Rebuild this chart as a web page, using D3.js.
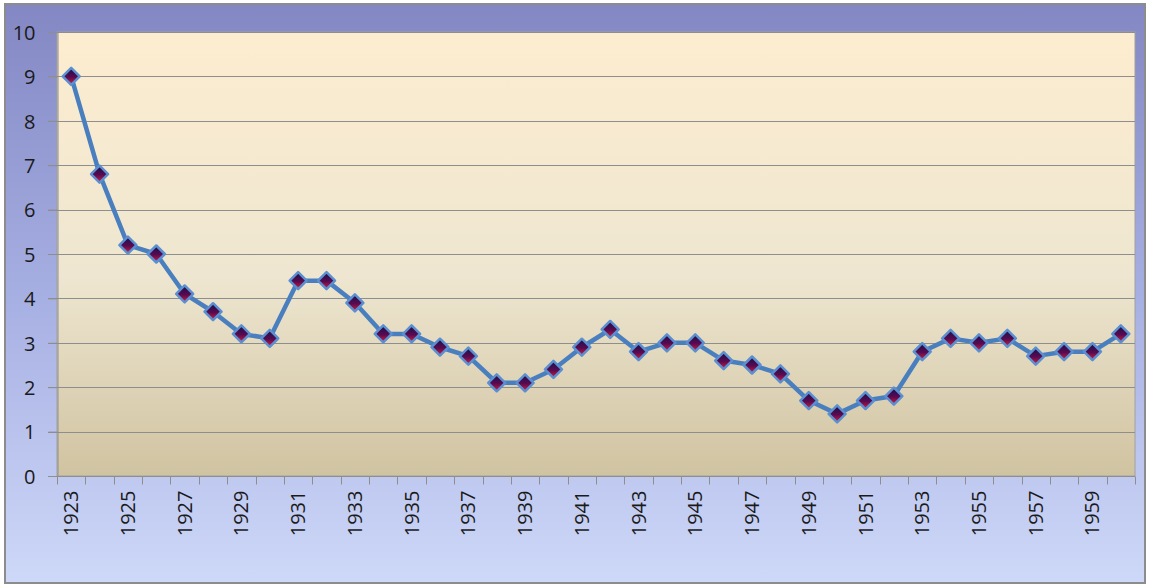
<!DOCTYPE html>
<html>
<head>
<meta charset="utf-8">
<script src="https://d3js.org/d3.v7.min.js"></script>
<style>
  html, body { margin: 0; padding: 0; background: #ffffff; }
  svg { display: block; }
  .axis text { font-family: "Open Sans", sans-serif; font-size: 20px; fill: #1a1a1a; }
</style>
</head>
<body>
<script>
(function(){

//chart data
var years = [1923, 1924, 1925, 1926, 1927, 1928, 1929, 1930, 1931, 1932,
             1933, 1934, 1935, 1936, 1937, 1938, 1939, 1940, 1941, 1942,
             1943, 1944, 1945, 1946, 1947, 1948, 1949, 1950, 1951, 1952,
             1953, 1954, 1955, 1956, 1957, 1958, 1959, 1960];
var values = [9.0, 6.8, 5.2, 5.0, 4.1, 3.7, 3.2, 3.1, 4.4, 4.4,
              3.9, 3.2, 3.2, 2.9, 2.7, 2.1, 2.1, 2.4, 2.9, 3.3,
              2.8, 3.0, 3.0, 2.6, 2.5, 2.3, 1.7, 1.4, 1.7, 1.8,
              2.8, 3.1, 3.0, 3.1, 2.7, 2.8, 2.8, 3.2];
var yTicks = [0, 1, 2, 3, 4, 5, 6, 7, 8, 9, 10];

//frame dimensions
var width = 1150,
    height = 586;
var plot = {left: 57, top: 32, right: 1135, bottom: 476};

var svg = d3.select("body")
    .append("svg")
    .attr("width", width)
    .attr("height", height);

var defs = svg.append("defs");

//outer background gradient
var bg = defs.append("linearGradient")
    .attr("id", "bgGrad")
    .attr("x1", 0).attr("y1", 0).attr("x2", 0).attr("y2", 1);
bg.append("stop").attr("offset", "0%").attr("stop-color", "#8387c3");
bg.append("stop").attr("offset", "50%").attr("stop-color", "#a6afe2");
bg.append("stop").attr("offset", "100%").attr("stop-color", "#ced8f8");

//plot area gradient
var pg = defs.append("linearGradient")
    .attr("id", "plotGrad")
    .attr("x1", 0).attr("y1", 0).attr("x2", 0).attr("y2", 1);
pg.append("stop").attr("offset", "0%").attr("stop-color", "#fdedd0");
pg.append("stop").attr("offset", "55%").attr("stop-color", "#eee6d0");
pg.append("stop").attr("offset", "100%").attr("stop-color", "#d0c3a1");

//marker fill gradient
var mg = defs.append("linearGradient")
    .attr("id", "markGrad")
    .attr("x1", 0).attr("y1", 0).attr("x2", 0).attr("y2", 1);
mg.append("stop").attr("offset", "0%").attr("stop-color", "#14124a");
mg.append("stop").attr("offset", "55%").attr("stop-color", "#5a0a50");
mg.append("stop").attr("offset", "100%").attr("stop-color", "#d8203a");

//background and border
svg.append("rect")
    .attr("x", 5).attr("y", 4)
    .attr("width", 1140).attr("height", 579)
    .attr("fill", "url(#bgGrad)")
    .attr("stroke", "#8c8c8c")
    .attr("stroke-width", 2);

svg.append("rect")
    .attr("x", plot.left).attr("y", plot.top)
    .attr("width", plot.right - plot.left)
    .attr("height", plot.bottom - plot.top)
    .attr("fill", "url(#plotGrad)")
    .attr("stroke", "#a0a0a0")
    .attr("stroke-width", 1);

//scales
var x = d3.scaleBand()
    .domain(years)
    .range([plot.left, plot.right]);

var y = d3.scaleLinear()
    .domain([0, 10])
    .range([plot.bottom, plot.top]);

//gridlines
svg.append("g")
    .selectAll("line")
    .data(yTicks)
    .enter()
    .append("line")
    .attr("x1", plot.left - 9)
    .attr("x2", plot.right)
    .attr("y1", function(d){ return Math.round(y(d)) + 0.5; })
    .attr("y2", function(d){ return Math.round(y(d)) + 0.5; })
    .attr("stroke", "#8e8e8e")
    .attr("stroke-width", 1);

//y axis
var yAxis = svg.append("g")
    .attr("class", "axis")
    .attr("transform", "translate(" + (plot.left + 0.5) + ",0)")
    .call(d3.axisLeft(y).tickValues(yTicks).tickSize(9).tickPadding(13).tickFormat(d3.format("d")));
yAxis.select(".domain").attr("stroke", "#8e8e8e");
yAxis.selectAll(".tick line").attr("stroke", "#8e8e8e");
yAxis.selectAll("text").attr("dy", "0.36em");

//x axis with ticks between categories
var xg = svg.append("g")
    .attr("class", "axis")
    .attr("transform", "translate(0," + (plot.bottom + 0.5) + ")");
xg.append("line")
    .attr("x1", plot.left).attr("x2", plot.right)
    .attr("stroke", "#8e8e8e");
var bounds = years.map(function(d){ return x(d); }).concat([plot.right]);
xg.selectAll(".sep")
    .data(bounds)
    .enter()
    .append("line")
    .attr("class", "sep")
    .attr("x1", function(d){ return Math.round(d) + 0.5; })
    .attr("x2", function(d){ return Math.round(d) + 0.5; })
    .attr("y1", 0).attr("y2", 8)
    .attr("stroke", "#8e8e8e");

xg.selectAll(".lbl")
    .data(years.filter(function(d, i){ return i % 2 === 0; }))
    .enter()
    .append("text")
    .attr("class", "lbl")
    .attr("transform", function(d){
        return "translate(" + (x(d) + x.bandwidth() / 2 + 7) + ",14) rotate(-90)";
    })
    .attr("text-anchor", "end")
    .text(function(d){ return d; });

//line
var line = d3.line()
    .x(function(d, i){ return x(years[i]) + x.bandwidth() / 2; })
    .y(function(d){ return y(d); });

svg.append("path")
    .datum(values)
    .attr("d", line)
    .attr("fill", "none")
    .attr("stroke", "#4a7fbf")
    .attr("stroke-width", 4.5)
    .attr("stroke-linejoin", "round");

//diamond markers
svg.append("g")
    .selectAll("path")
    .data(values)
    .enter()
    .append("path")
    .attr("d", "M0,-8.5L8.5,0L0,8.5L-8.5,0Z")
    .attr("transform", function(d, i){
        return "translate(" + (x(years[i]) + x.bandwidth() / 2) + "," + y(d) + ")";
    })
    .attr("fill", "url(#markGrad)")
    .attr("stroke", "#5a8fd2")
    .attr("stroke-width", 2.5)
    .attr("stroke-linejoin", "round");

})();
</script>
</body>
</html>
